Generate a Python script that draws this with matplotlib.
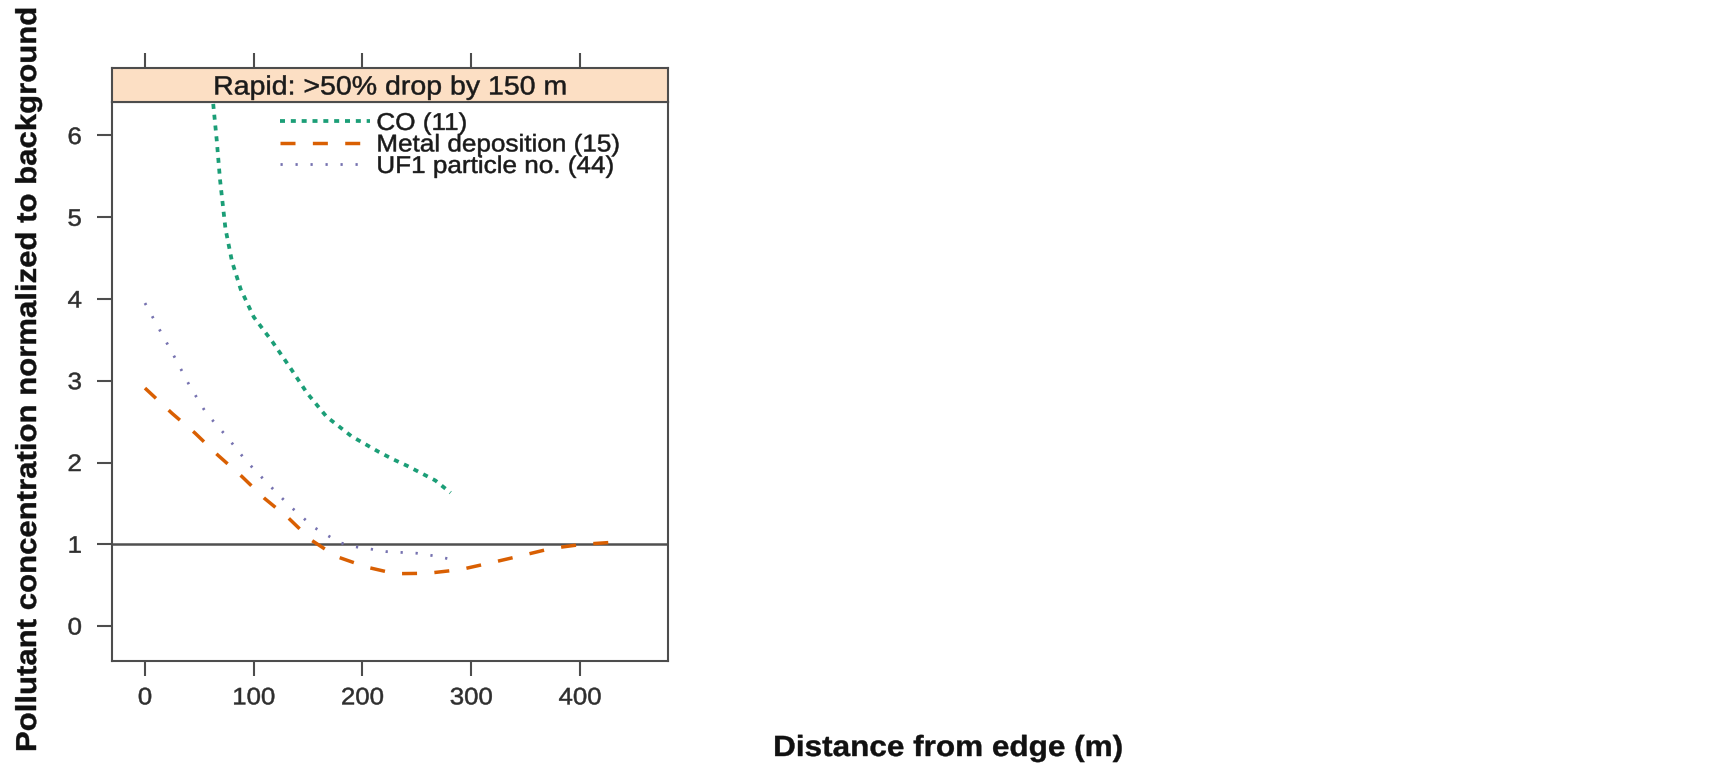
import matplotlib
matplotlib.use("Agg")
import matplotlib.pyplot as plt
from matplotlib.patheffects import AbstractPathEffect
from matplotlib.transforms import Affine2D

# ---------------- data ----------------
co_x = [61, 63, 66, 69, 74, 80, 88, 100, 117, 133, 149, 167, 190, 215, 228, 241, 254, 267, 281]
co_y = [6.65, 6.35, 5.94, 5.46, 4.86, 4.46, 4.12, 3.78, 3.48, 3.17, 2.85, 2.56, 2.32, 2.13, 2.04, 1.96, 1.87, 1.78, 1.63]

metal_x = [0, 25, 46, 67, 89, 110, 132, 153, 176, 204, 230, 260, 290, 317, 346, 374, 403, 437]
metal_y = [2.91, 2.60, 2.36, 2.09, 1.83, 1.56, 1.32, 1.05, 0.85, 0.72, 0.64, 0.645, 0.69, 0.77, 0.86, 0.95, 1.00, 1.03]

uf1_x = [0, 14, 28, 41, 56, 75, 93, 113, 133, 155, 179, 193, 208, 222, 236, 250, 265, 280]
uf1_y = [3.95, 3.61, 3.27, 2.94, 2.61, 2.32, 2.02, 1.74, 1.47, 1.21, 1.02, 0.97, 0.94, 0.91, 0.90, 0.89, 0.86, 0.82]

series_labels = ["CO (11)", "Metal deposition (15)", "UF1 particle no. (44)"]
x_ticks = [0, 100, 200, 300, 400]
y_ticks = [0, 1, 2, 3, 4, 5, 6]
reference_level = 1
strip_label = "Rapid: >50% drop by 150 m"
x_label = "Distance from edge (m)"
y_label = "Pollutant concentration normalized to background"


# ------------- text stretch effect (text stays real text) -------------
class HStretch(AbstractPathEffect):
    def __init__(self, sx=1.08, anchor="center", lw=0.0):
        super().__init__()
        self.sx = sx
        self.anchor = anchor
        self.lw = lw

    def draw_path(self, renderer, gc, tpath, affine, rgbFace=None):
        try:
            ext = tpath.get_extents()
            xmin, xmax = ext.x0, ext.x1
        except Exception:
            xmin = xmax = 0.0
        if self.anchor == "left":
            cx = xmin
        elif self.anchor == "right":
            cx = xmax
        else:
            cx = 0.5 * (xmin + xmax)
        t = Affine2D().translate(-cx, 0).scale(self.sx, 1.0).translate(cx, 0) + affine
        gc0 = renderer.new_gc()
        gc0.copy_properties(gc)
        if self.lw > 0 and rgbFace is not None:
            gc0.set_linewidth(self.lw)
            gc0.set_foreground(rgbFace)
            gc0.set_joinstyle("round")
        renderer.draw_path(gc0, tpath, t, rgbFace)
        gc0.restore()


plt.rcParams["font.family"] = ["Liberation Sans", "DejaVu Sans"]
plt.rcParams["lines.scale_dashes"] = False

W, H = 1733, 764
fig = plt.figure(figsize=(W / 100, H / 100), dpi=100)
fig.patch.set_facecolor("white")

# panel geometry in pixels
L, R, B, T, ST = 111.7, 668.3, 661.0, 102.3, 68.3
ax = fig.add_axes([L / W, 1 - B / H, (R - L) / W, (B - T) / H])
sax = fig.add_axes([L / W, 1 - T / H, (R - L) / W, (T - ST) / H])

frame_col = "#4D4D4D"
label_col = "#2E2E2E"
SX = 1.08

ax.axhline(reference_level, color="#505050", lw=1.8, zorder=1)
l_co, = ax.plot(co_x, co_y, color="#1B9E77", lw=2.7, linestyle=(0, (3.6, 4.2)),
                dash_capstyle="butt", label=series_labels[0], zorder=3)
l_me, = ax.plot(metal_x, metal_y, color="#D95F02", lw=2.5, linestyle=(0, (10.8, 12.5)),
                dash_capstyle="butt", label=series_labels[1], zorder=3)
l_uf, = ax.plot(uf1_x, uf1_y, color="#7672B0", lw=2.0, linestyle=(0, (1.6, 9.2)),
                dash_capstyle="butt", label=series_labels[2], zorder=3)

ax.set_xlim(-30.6, 481.2)
ax.set_ylim(-0.428, 6.406)
ax.set_xticks(x_ticks)
ax.set_yticks(y_ticks)
ax.set_xticklabels([str(v) for v in x_ticks])
ax.set_yticklabels([str(v) for v in y_ticks])

for sp in ax.spines.values():
    sp.set_color(frame_col)
    sp.set_linewidth(1.5)
ax.tick_params(axis="x", bottom=True, top=False, direction="out", length=11, width=1.5,
               color=frame_col, labelsize=17.2, labelcolor=label_col, pad=8)
ax.tick_params(axis="y", left=True, right=False, direction="out", length=11, width=1.5,
               color=frame_col, labelsize=17.2, labelcolor=label_col, pad=10.5)
for lab in ax.get_xticklabels():
    lab.set_path_effects([HStretch(SX, "center", 0.35)])
for lab in ax.get_yticklabels():
    lab.set_path_effects([HStretch(SX, "right", 0.35)])

# strip
sax.set_facecolor("#FCDFC4")
sax.set_xlim(ax.get_xlim())
sax.set_ylim(0, 1)
sax.set_xticks(x_ticks)
sax.set_yticks([])
sax.tick_params(axis="x", top=True, bottom=False, labeltop=False, labelbottom=False,
                direction="out", length=11, width=1.5, color=frame_col)
for sp in sax.spines.values():
    sp.set_color(frame_col)
    sp.set_linewidth(1.5)
sax.text(0.5, 0.23, strip_label, transform=sax.transAxes, ha="center", va="baseline",
         fontsize=19.0, color="#1a1a1a", path_effects=[HStretch(SX, "center", 0.35)])

# legend
leg = ax.legend(handles=[l_co, l_me, l_uf], loc="upper left", bbox_to_anchor=(0.302, 0.981),
                frameon=False, fontsize=17.4, handlelength=3.75, handletextpad=0.25,
                labelspacing=-0.02, borderpad=0, borderaxespad=0)
for t in leg.get_texts():
    t.set_color("#1a1a1a")
    t.set_path_effects([HStretch(SX, "left", 0.35)])

# axis titles
fig.text(948 / W, 1 - 756 / H, x_label, ha="center", va="baseline", fontsize=21.0,
         fontweight="bold", color="#111111", path_effects=[HStretch(SX, "center", 0.3)])
fig.text(36 / W, 1 - 379 / H, y_label, rotation=90, rotation_mode="anchor",
         ha="center", va="baseline", fontsize=20.75, fontweight="bold", color="#111111",
         path_effects=[HStretch(SX, "center", 0.3)])

fig.savefig("out.png", dpi=100, facecolor="white")
